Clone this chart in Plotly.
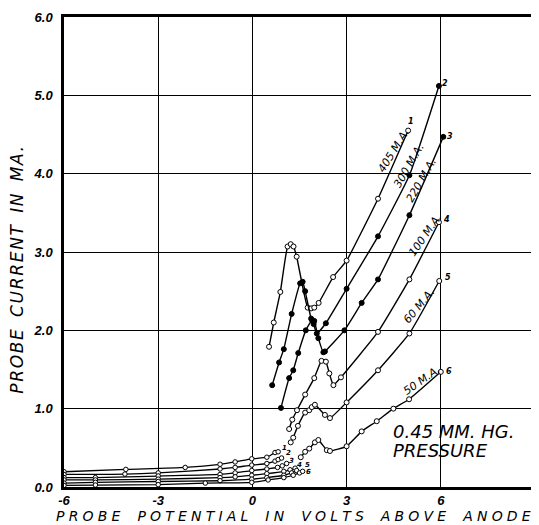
import plotly.graph_objects as go

# ---------------- data ----------------
x_ticks = [-6, -3, 0, 3, 6, 9]
x_tick_text = ["-6", "-3", "0", "3", "6", "9"]
y_ticks = [0, 1, 2, 3, 4, 5, 6]
y_tick_text = ["0.0", "1.0", "2.0", "3.0", "4.0", "5.0", "6.0"]

# low-potential branches (curves 1..6)
c1_low_x = [-6.0, -4.03, -2.14, -1.03, -0.55, -0.02, 0.46, 0.72, 0.82]
c1_low_y = [0.195, 0.225, 0.25, 0.29, 0.32, 0.36, 0.38, 0.44, 0.45]
c2_low_x = [-6.0, -4.06, -3.0, -1.03, -0.55, -0.02, 0.46, 0.72, 0.82, 0.93]
c2_low_y = [0.16, 0.165, 0.18, 0.23, 0.25, 0.28, 0.30, 0.33, 0.35, 0.37]
c3_low_x = [-6.0, -5.0, -3.0, -1.03, -0.55, -0.02, 0.46, 0.80, 0.95, 1.09]
c3_low_y = [0.12, 0.12, 0.14, 0.16, 0.18, 0.21, 0.23, 0.25, 0.27, 0.30]
c4_low_x = [-6.0, -5.0, -3.0, -1.03, -0.55, -0.02, 0.46, 1.0, 1.2, 1.36]
c4_low_y = [0.09, 0.09, 0.10, 0.12, 0.13, 0.15, 0.17, 0.20, 0.22, 0.24]
c5_low_x = [-6.0, -5.0, -3.0, -1.03, -0.02, 0.46, 1.0, 1.25, 1.41]
c5_low_y = [0.05, 0.06, 0.07, 0.08, 0.10, 0.12, 0.15, 0.18, 0.21]
c6_low_x = [-6.0, -5.0, -3.0, -1.5, -0.02, 0.5, 1.0, 1.3, 1.5, 1.6]
c6_low_y = [0.02, 0.025, 0.03, 0.05, 0.06, 0.09, 0.12, 0.15, 0.18, 0.20]

# high-potential branches
c1_up_x = [0.53, 0.68, 0.89, 1.12, 1.22, 1.31, 1.41, 1.76, 1.87, 1.97, 2.11, 2.57, 3.0, 4.0, 4.96]
c1_up_y = [1.79, 2.10, 2.49, 3.07, 3.10, 3.07, 2.94, 2.29, 2.28, 2.29, 2.35, 2.68, 2.89, 3.68, 4.55]
c2_up_x = [0.63, 0.85, 1.0, 1.25, 1.52, 1.60, 1.68, 1.87, 1.95, 2.05, 2.34, 3.0, 4.0, 5.0, 5.94]
c2_up_y = [1.30, 1.59, 1.76, 2.21, 2.60, 2.62, 2.50, 2.15, 2.08, 1.96, 2.09, 2.53, 3.20, 3.98, 5.12]
c3_up_x = [0.91, 1.17, 1.30, 1.46, 1.70, 1.90, 1.97, 2.10, 2.26, 2.31, 2.93, 3.48, 4.0, 5.0, 6.08]
c3_up_y = [1.01, 1.39, 1.49, 1.71, 2.00, 2.13, 2.12, 1.90, 1.72, 1.73, 2.00, 2.35, 2.65, 3.47, 4.47]
c4_up_x = [1.17, 1.27, 1.42, 1.68, 1.97, 2.20, 2.34, 2.45, 2.58, 2.82, 4.0, 5.0, 5.94]
c4_up_y = [0.74, 0.86, 0.98, 1.18, 1.39, 1.61, 1.60, 1.45, 1.30, 1.40, 1.98, 2.65, 3.38]
c5_up_x = [1.22, 1.30, 1.45, 1.68, 1.81, 1.89, 1.99, 2.31, 2.47, 3.0, 4.0, 5.0, 5.95]
c5_up_y = [0.57, 0.63, 0.78, 0.95, 0.98, 1.02, 1.05, 0.92, 0.88, 1.08, 1.49, 1.96, 2.63]
c6_up_x = [1.54, 1.68, 1.81, 1.99, 2.10, 2.37, 2.47, 3.0, 3.48, 3.96, 4.49, 4.99, 6.0]
c6_up_y = [0.38, 0.45, 0.49, 0.57, 0.60, 0.47, 0.46, 0.52, 0.71, 0.84, 1.00, 1.12, 1.47]

filled = [False, True, True, False, False, False]

curve_names = ["405 M.A.", "300 M.A.", "220 M.A.", "100 M.A.", "60 M.A.", "50 M.A."]
name_x = [4.50, 4.98, 5.40, 5.52, 5.32, 5.39]
name_y = [4.30, 4.11, 3.92, 3.22, 2.32, 1.36]
name_angle = [-58, -60, -60, -55, -50, -35]

end_labels = ["1", "2", "3", "4", "5", "6"]
end_x = [5.06, 6.13, 6.29, 6.19, 6.22, 6.27]
end_y = [4.66, 5.15, 4.48, 3.42, 2.67, 1.48]
low_lab_x = [1.03, 1.16, 1.26, 1.50, 1.75, 1.80]
low_lab_y = [0.50, 0.43, 0.33, 0.28, 0.28, 0.19]

x_title = "PROBE POTENTIAL IN VOLTS ABOVE ANODE"
y_title = "PROBE CURRENT IN MA."
pressure_lines = ["0.45 MM. HG.", "PRESSURE"]

# ---------------- figure ----------------
fig = go.Figure()

lows = [(c1_low_x, c1_low_y), (c2_low_x, c2_low_y), (c3_low_x, c3_low_y),
        (c4_low_x, c4_low_y), (c5_low_x, c5_low_y), (c6_low_x, c6_low_y)]
ups = [(c1_up_x, c1_up_y), (c2_up_x, c2_up_y), (c3_up_x, c3_up_y),
       (c4_up_x, c4_up_y), (c5_up_x, c5_up_y), (c6_up_x, c6_up_y)]

def marker(is_filled, size=5):
    return dict(symbol="circle", size=size,
                color="black" if is_filled else "white",
                line=dict(color="black", width=1))

for i in range(6):
    lx, ly = lows[i]
    fig.add_trace(go.Scatter(x=lx, y=ly, mode="lines+markers",
                             line=dict(color="black", width=1.3, shape="spline", smoothing=0.6),
                             marker=marker(False, 4.5), showlegend=False, hoverinfo="skip"))
    ux, uy = ups[i]
    fig.add_trace(go.Scatter(x=ux, y=uy, mode="lines+markers",
                             line=dict(color="black", width=1.4, shape="spline", smoothing=0.4),
                             marker=marker(filled[i], 5), showlegend=False, hoverinfo="skip"))

def spaced(s, gap, word_extra):
    out = []
    for ch in s:
        out.append(ch if ch != " " else " " + gap * word_extra)
    return gap.join(out)

tick_font = dict(family="Liberation Sans", size=13, color="black", style="italic", weight="bold")
ann = []
for i in range(6):
    ann.append(dict(x=name_x[i], y=name_y[i], text=curve_names[i], textangle=name_angle[i],
                    showarrow=False, font=dict(family="DejaVu Sans", size=11, color="black", style="italic")))
    ann.append(dict(x=end_x[i], y=end_y[i], text=end_labels[i], showarrow=False,
                    font=dict(family="DejaVu Sans", size=8, color="black", style="italic", weight="bold")))
    ann.append(dict(x=low_lab_x[i], y=low_lab_y[i], text=end_labels[i], showarrow=False,
                    font=dict(family="DejaVu Sans", size=7, color="black", style="italic", weight="bold")))

ann.append(dict(x=4.4, y=0.71, text=pressure_lines[0], xanchor="left", showarrow=False,
                font=dict(family="DejaVu Sans", size=18, color="black", style="italic")))
ann.append(dict(x=4.4, y=0.47, text=pressure_lines[1], xanchor="left", showarrow=False,
                font=dict(family="DejaVu Sans", size=18, color="black", style="italic")))
ann.append(dict(x=0.487, y=-0.062, xref="paper", yref="paper", yanchor="middle",
                text=spaced(x_title, "\u2009\u200a", 1), showarrow=False, borderpad=0,
                font=dict(family="DejaVu Sans", size=14, color="black", style="italic")))
ann.append(dict(x=-0.1, y=0.462, xref="paper", yref="paper", xanchor="center",
                text=spaced(y_title, "\u200a", 2), textangle=-90, showarrow=False,
                font=dict(family="DejaVu Sans", size=17, color="black", style="italic")))

# the page body adds an 8px offset, so the figure is sized to end at the window edge
fig.update_layout(
    width=531, height=517,
    margin=dict(l=56, r=4, t=9, b=38, autoexpand=False),
    paper_bgcolor="white", plot_bgcolor="white",
    annotations=ann,
    xaxis=dict(range=[-6, 9], tickvals=x_ticks, ticktext=x_tick_text, automargin=False,
               showgrid=True, gridcolor="black", gridwidth=1.2, zeroline=False,
               showline=True, linecolor="black", linewidth=2.5, mirror=True,
               ticks="", tickfont=tick_font, ticklabelstandoff=0),
    yaxis=dict(range=[0, 6], tickvals=y_ticks, ticktext=y_tick_text, automargin=False,
               showgrid=True, gridcolor="black", gridwidth=1.2, zeroline=False,
               showline=True, linecolor="black", linewidth=2.5, mirror=True,
               ticks="", tickfont=tick_font, ticklabelstandoff=6),
)

fig.write_html("out.html")
